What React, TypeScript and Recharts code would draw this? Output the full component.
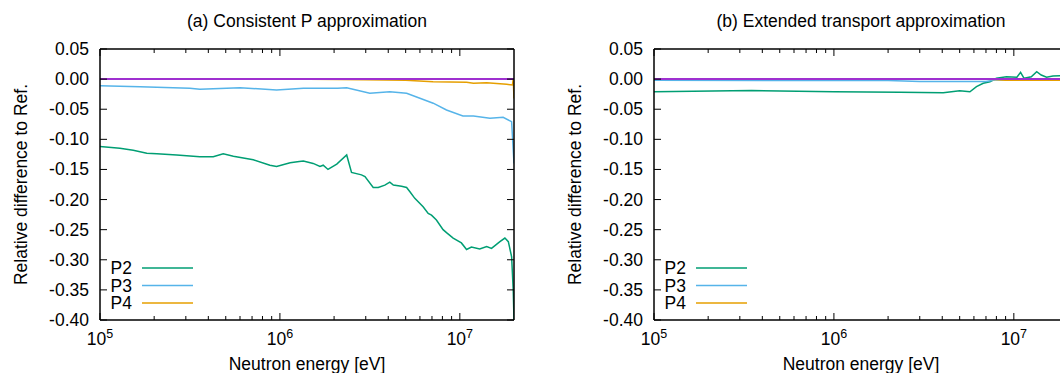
import React from 'react';
import { LineChart, Line, XAxis, YAxis, Legend } from 'recharts';

const FONT = '"Liberation Sans", Arial, Helvetica, sans-serif';
const FS = 17.5;

// axis ticks
const majorTicks = [1e5, 1e6, 1e7];
const majorTickPowers = ['5', '6', '7'];
const minorTicks = [2e5, 3e5, 4e5, 5e5, 6e5, 7e5, 8e5, 9e5, 2e6, 3e6, 4e6, 5e6, 6e6, 7e6, 8e6, 9e6];
const diffTicks = [0.05, 0, -0.05, -0.1, -0.15, -0.2, -0.25, -0.3, -0.35, -0.4];

// (a) consistent P approximation
const aP2Energy = [1e5, 1.29e5, 1.53e5, 1.82e5, 2.07e5, 2.67e5, 3.59e5, 4.26e5, 4.84e5, 5.51e5, 7.11e5, 8.8e5, 9.58e5, 1.14e6, 1.28e6, 1.35e6, 1.53e6, 1.67e6, 1.74e6, 1.85e6, 2.07e6, 2.35e6, 2.5e6, 2.84e6, 2.97e6, 3.3e6, 3.52e6, 3.83e6, 4.08e6, 4.27e6, 4.74e6, 5.06e6, 5.28e6, 5.62e6, 6.25e6, 6.67e6, 6.96e6, 7.41e6, 8.07e6, 8.43e6, 9.18e6, 1.02e7, 1.09e7, 1.16e7, 1.29e7, 1.41e7, 1.5e7, 1.67e7, 1.78e7, 1.86e7, 1.94e7, 1.98e7, 2.0e7];
const aP2Diff = [-0.112, -0.115, -0.118, -0.123, -0.124, -0.126, -0.129, -0.129, -0.124, -0.128, -0.134, -0.143, -0.145, -0.139, -0.137, -0.136, -0.14, -0.145, -0.143, -0.15, -0.141, -0.126, -0.155, -0.159, -0.162, -0.18, -0.18, -0.176, -0.171, -0.176, -0.178, -0.18, -0.187, -0.198, -0.212, -0.223, -0.226, -0.234, -0.25, -0.255, -0.264, -0.272, -0.283, -0.279, -0.282, -0.278, -0.281, -0.27, -0.264, -0.27, -0.295, -0.35, -0.4];
const aP3Energy = [1e5, 1.67e5, 3.16e5, 3.59e5, 6.0e5, 9.58e5, 1.35e6, 2.09e6, 2.35e6, 3.16e6, 4.08e6, 5.06e6, 6.0e6, 7.11e6, 8.43e6, 1.04e7, 1.19e7, 1.47e7, 1.74e7, 1.94e7, 2.0e7];
const aP3Diff = [-0.011, -0.0126, -0.0153, -0.017, -0.0143, -0.018, -0.0153, -0.015, -0.0142, -0.0236, -0.0209, -0.0236, -0.0318, -0.04, -0.0513, -0.0612, -0.0612, -0.065, -0.0634, -0.0707, -0.14];
const aP4Energy = [1e5, 1e6, 3e6, 5e6, 7.1e6, 1.09e7, 1.19e7, 1.41e7, 1.82e7, 1.96e7, 1.98e7, 2.0e7];
const aP4Diff = [0, 0, -0.001, -0.002, -0.0043, -0.0053, -0.007, -0.006, -0.0087, -0.0098, 0, -0.032];

// (b) extended transport approximation
const bP2Energy = [1e5, 3.49e5, 1e6, 2.33e6, 4.05e6, 5.0e6, 5.7e6, 6.2e6, 6.76e6, 7.36e6, 8.0e6, 9.1e6, 1.04e7, 1.09e7, 1.14e7, 1.25e7, 1.34e7, 1.42e7, 1.52e7, 1.65e7, 1.8e7, 2.0e7];
const bP2Diff = [-0.021, -0.019, -0.021, -0.022, -0.0226, -0.0193, -0.021, -0.0126, -0.007, -0.0043, 0.0013, 0.004, 0.003, 0.0113, 0.0013, 0.004, 0.0123, 0.0068, 0.003, 0.005, 0.0056, 0.006];
const bP3Energy = [1e5, 2e6, 3e6, 7e6, 8e6, 1e7, 2e7];
const bP3Diff = [-0.002, -0.0025, -0.004, -0.004, -0.001, -0.002, -0.002];
const bP4Energy = [1e5, 7e6, 9e6, 1.5e7, 2e7];
const bP4Diff = [0, 0, -0.002, -0.002, -0.002];

const refEnergy = [1e5, 2e7];
const refDiff = [0, 0];

const seriesNames = ['P2', 'P3', 'P4'];
const seriesColors = ['#009e73', '#56b4e9', '#e69f00'];

const toPoints = (e: number[], v: number[]) => e.map((x, i) => ({ e: x, v: v[i] }));

const BottomTick = (props: any) => {
  const { x, y, payload } = props;
  const idx = majorTicks.indexOf(payload.value);
  const major = idx >= 0;
  return (
    <g>
      <line x1={x} y1={y} x2={x} y2={y - (major ? 7 : 4)} stroke="#000" />
      {major && (
        <text x={x} y={y + 25} textAnchor="middle" fontSize={FS} fill="#000" fontFamily={FONT}>
          10<tspan dy={-7} fontSize={12.5}>{majorTickPowers[idx]}</tspan>
        </text>
      )}
    </g>
  );
};

const TopTick = (props: any) => {
  const { x, y, payload } = props;
  const major = majorTicks.includes(payload.value);
  return <line x1={x} y1={y} x2={x} y2={y + (major ? 7 : 4)} stroke="#000" />;
};

const LeftTick = (props: any) => {
  const { x, y, payload } = props;
  return (
    <g>
      <line x1={x} y1={y} x2={x + 7} y2={y} stroke="#000" />
      <text x={x - 11} y={y + 6} textAnchor="end" fontSize={FS} fill="#000" fontFamily={FONT}>
        {Number(payload.value).toFixed(2)}
      </text>
    </g>
  );
};

const RightTick = (props: any) => {
  const { x, y } = props;
  return <line x1={x} y1={y} x2={x - 7} y2={y} stroke="#000" />;
};

const renderLegend = (props: any) => {
  const items = (props.payload || []).filter((p: any) => seriesNames.includes(p.value));
  return (
    <svg width={110} height={56} style={{ display: 'block' }}>
      {items.map((item: any, i: number) => (
        <g key={item.value}>
          <text x={32} y={10 + i * 17.5 + 6} textAnchor="end" fontSize={FS} fill="#000" fontFamily={FONT}>
            {item.value}
          </text>
          <line x1={42} x2={93} y1={10 + i * 17.5} y2={10 + i * 17.5} stroke={item.color} strokeWidth={1.5} />
        </g>
      ))}
    </svg>
  );
};

interface PanelProps {
  title: string;
  series: { e: number; v: number }[][];
}

const W = 554;
const H = 373;

const Panel: React.FC<PanelProps> = ({ title, series }) => {
  return (
    <LineChart width={W} height={H} margin={{ top: 0, right: 0, bottom: 0, left: 0 }}>
      <XAxis
        xAxisId="b"
        orientation="bottom"
        type="number"
        dataKey="e"
        scale="log"
        domain={[1e5, 2e7]}
        allowDataOverflow
        ticks={[...majorTicks, ...minorTicks]}
        interval={0}
        height={53}
        tickSize={0}
        tickMargin={0}
        tickLine={false}
        tick={BottomTick}
        axisLine={{ stroke: '#000', strokeWidth: 1.5 }}
        label={{
          content: (p: any) => (
            <text x={p.viewBox.x + p.viewBox.width / 2} y={370} textAnchor="middle" fontSize={FS} fill="#000" fontFamily={FONT}>
              Neutron energy [eV]
            </text>
          ),
        }}
      />
      <XAxis
        xAxisId="t"
        orientation="top"
        type="number"
        dataKey="e"
        scale="log"
        domain={[1e5, 2e7]}
        allowDataOverflow
        ticks={[...majorTicks, ...minorTicks]}
        interval={0}
        height={49}
        tickSize={0}
        tickMargin={0}
        tickLine={false}
        tick={TopTick}
        axisLine={{ stroke: '#000', strokeWidth: 1.5 }}
        label={{
          content: (p: any) => (
            <text x={p.viewBox.x + p.viewBox.width / 2} y={27} textAnchor="middle" fontSize={FS} fill="#000" fontFamily={FONT}>
              {title}
            </text>
          ),
        }}
      />
      <YAxis
        yAxisId="l"
        orientation="left"
        type="number"
        domain={[-0.4, 0.05]}
        allowDataOverflow
        ticks={diffTicks}
        interval={0}
        width={100}
        tickSize={0}
        tickMargin={0}
        tickLine={false}
        tick={LeftTick}
        axisLine={{ stroke: '#000', strokeWidth: 1.5 }}
        label={{
          content: (p: any) => {
            const cy = p.viewBox.y + p.viewBox.height / 2;
            return (
              <text x={27} y={cy} transform={`rotate(-90, 27, ${cy})`} textAnchor="middle" fontSize={FS} fill="#000" fontFamily={FONT}>
                Relative difference to Ref.
              </text>
            );
          },
        }}
      />
      <YAxis
        yAxisId="r"
        orientation="right"
        type="number"
        domain={[-0.4, 0.05]}
        allowDataOverflow
        ticks={diffTicks}
        interval={0}
        width={W - 514}
        tickSize={0}
        tickMargin={0}
        tickLine={false}
        tick={RightTick}
        axisLine={{ stroke: '#000', strokeWidth: 1.5 }}
      />
      {series.map((pts, i) => (
        <Line
          key={seriesNames[i]}
          name={seriesNames[i]}
          xAxisId="b"
          yAxisId="l"
          data={pts}
          dataKey="v"
          type="linear"
          stroke={seriesColors[i]}
          strokeWidth={1.5}
          dot={false}
          activeDot={false}
          isAnimationActive={false}
        />
      ))}
      <Line
        name="Ref"
        legendType="none"
        xAxisId="t"
        yAxisId="r"
        data={toPoints(refEnergy, refDiff)}
        dataKey="v"
        type="linear"
        stroke="#9f30d0"
        strokeWidth={2}
        dot={false}
        activeDot={false}
        isAnimationActive={false}
      />
      <Legend
        layout="horizontal"
        verticalAlign="middle"
        align="center"
        content={renderLegend}
        wrapperStyle={{ left: 100, top: 258, width: 110, height: 56 }}
      />
    </LineChart>
  );
};

export default function App() {
  const panelA = [toPoints(aP2Energy, aP2Diff), toPoints(aP3Energy, aP3Diff), toPoints(aP4Energy, aP4Diff)];
  const panelB = [toPoints(bP2Energy, bP2Diff), toPoints(bP3Energy, bP3Diff), toPoints(bP4Energy, bP4Diff)];
  return (
    <div
      style={{
        position: 'absolute',
        left: 0,
        top: 0,
        width: 1060,
        height: 373,
        overflow: 'hidden',
        background: '#fff',
        fontFamily: FONT,
      }}
    >
      <div style={{ position: 'absolute', left: 0, top: 0 }}>
        <Panel title="(a) Consistent P approximation" series={panelA} />
      </div>
      <div style={{ position: 'absolute', left: W, top: 0 }}>
        <Panel title="(b) Extended transport approximation" series={panelB} />
      </div>
    </div>
  );
}
